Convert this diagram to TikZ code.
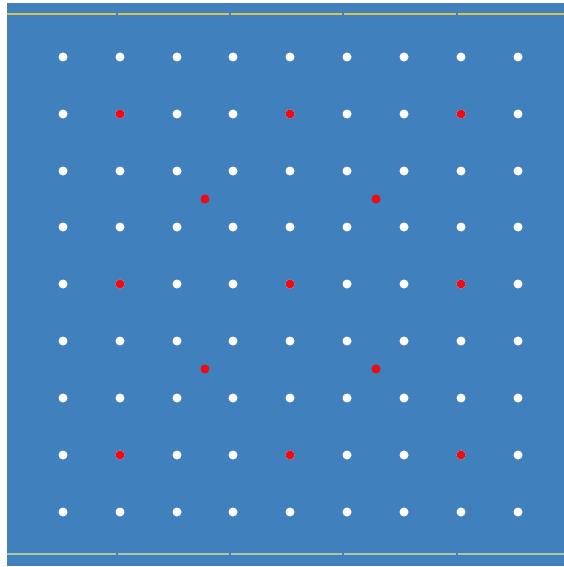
\documentclass[tikz,border=0pt]{standalone}
\definecolor{bgblue}{RGB}{64,128,188}
\definecolor{topline}{RGB}{212,196,80}
\definecolor{botline}{RGB}{170,200,160}
\definecolor{gapgrey}{RGB}{110,130,150}
\definecolor{reddot}{RGB}{240,10,20}
\begin{document}
\begin{tikzpicture}[x=1pt,y=-1pt,
  wdot/.style={circle,fill=white,inner sep=0pt,minimum size=9pt},
  rdot/.style={circle,fill=reddot,inner sep=0pt,minimum size=9pt},
  tline/.style={topline,line width=2.8pt},
  bline/.style={botline,line width=2.8pt}]
\useasboundingbox (0,0) rectangle (564,567);
\fill[white] (0,0) rectangle (564,567);
\fill[bgblue] (7,3) rectangle (564,566);
% top / bottom rails
\foreach \a/\b [count=\i] in {7/115.5,117.5/229,231/342,344/455.5,457.5/564}{
  \coordinate (ta\i) at (\a,14); \coordinate (tb\i) at (\b,14);
  \draw[tline] (ta\i) -- (tb\i);
  \coordinate (ba\i) at (\a,554); \coordinate (bb\i) at (\b,554);
  \draw[bline] (ba\i) -- (bb\i);
}
% white grid
\foreach \c [count=\i] in {63,120,177,233,290,347,404,461,518}{
  \foreach \r [count=\j] in {57,114,171,227,284,341,398,455,512}{
    \node[wdot] (w\i-\j) at (\c,\r) {};
  }
}
% red dots
\foreach \c/\r [count=\k] in {120/114,290/114,461/114,120/284,290/284,461/284,120/455,290/455,461/455,205/199,376/199,205/369,376/369}{
  \node[rdot] (r\k) at (\c,\r) {};
}
\end{tikzpicture}
\end{document}
